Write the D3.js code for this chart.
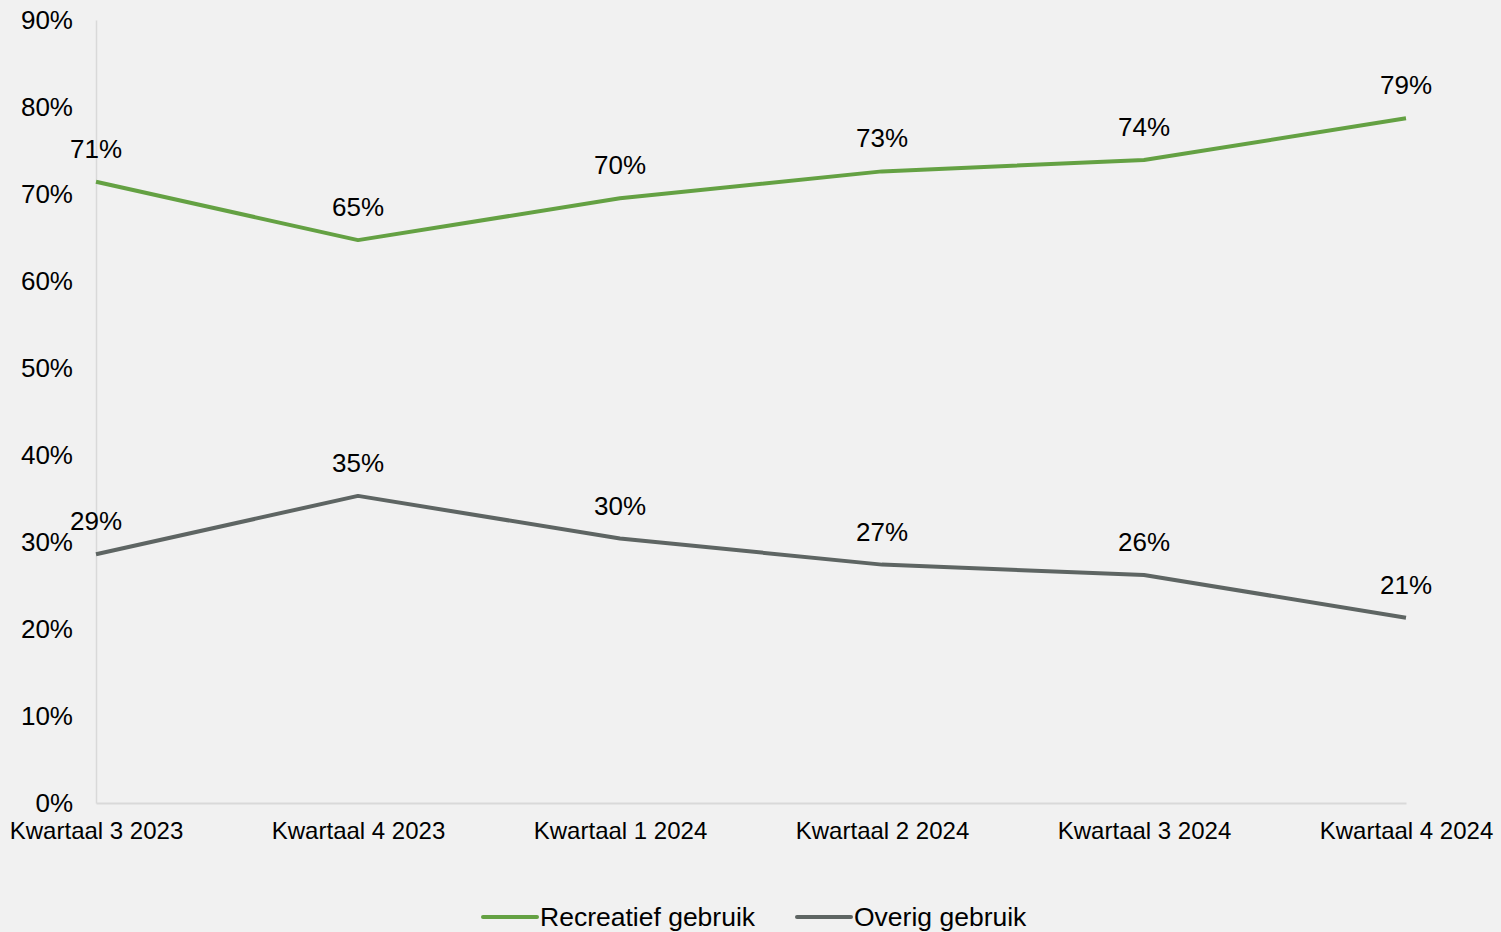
<!DOCTYPE html>
<html>
<head>
<meta charset="utf-8">
<script src="https://cdn.jsdelivr.net/npm/d3@7"></script>
<style>
  html, body { margin: 0; padding: 0; background: #f1f1f1; }
  svg { display: block; font-family: "Liberation Sans", Arial, sans-serif; }
</style>
</head>
<body>
<svg id="chart" width="1501" height="932"></svg>
<script>
// Quarters shown on the x axis
const categories = ["Kwartaal 3 2023", "Kwartaal 4 2023", "Kwartaal 1 2024", "Kwartaal 2 2024", "Kwartaal 3 2024", "Kwartaal 4 2024"];
// Share of use per quarter (fractions)
const recreatief = [0.714, 0.647, 0.695, 0.726, 0.739, 0.787];
const overig = [0.286, 0.353, 0.304, 0.274, 0.262, 0.213];
const seriesNames = ["Recreatief gebruik", "Overig gebruik"];
const yTicks = [0, 0.1, 0.2, 0.3, 0.4, 0.5, 0.6, 0.7, 0.8, 0.9];

const colors = ["#64a143", "#5e6563"];
const series = [
  { name: seriesNames[0], values: recreatief, color: colors[0] },
  { name: seriesNames[1], values: overig, color: colors[1] }
];

const svg = d3.select("#chart");
const margin = { left: 96, right: 95, top: 20, bottom: 129 };
const W = 1501, H = 932;

const x = d3.scalePoint().domain(categories).range([margin.left, W - margin.right]);
const y = d3.scaleLinear().domain([0, 0.9]).range([H - margin.bottom, margin.top]);
const pct = d3.format(".0%");

// Axes
const yAxis = svg.append("g")
  .attr("transform", `translate(${margin.left},0)`)
  .call(d3.axisLeft(y).tickValues(yTicks).tickFormat(pct).tickSize(0).tickPadding(23));
yAxis.select(".domain").attr("stroke", "#d9d9d9").attr("stroke-width", 1.5);
yAxis.selectAll("text").attr("font-size", 26).attr("fill", "#000").attr("font-family", "Liberation Sans, Arial, sans-serif");

const xAxis = svg.append("g")
  .attr("transform", `translate(0,${y(0)})`)
  .call(d3.axisBottom(x).tickSize(0).tickPadding(19));
xAxis.select(".domain").attr("stroke", "#d9d9d9").attr("stroke-width", 2);
xAxis.selectAll("text").attr("font-size", 24).attr("fill", "#000").attr("font-family", "Liberation Sans, Arial, sans-serif");

// Lines with value labels above each point
const line = d3.line().x((d, i) => x(categories[i])).y(d => y(d));
series.forEach(s => {
  svg.append("path")
    .datum(s.values)
    .attr("fill", "none")
    .attr("stroke", s.color)
    .attr("stroke-width", 4)
    .attr("stroke-linejoin", "round")
    .attr("d", line);

  svg.append("g").selectAll("text")
    .data(s.values)
    .join("text")
    .attr("x", (d, i) => x(categories[i]))
    .attr("y", d => y(d) - 24)
    .attr("text-anchor", "middle")
    .attr("font-size", 26)
    .attr("fill", "#000")
    .text(d => pct(d));
});

// Legend
const legendX = [483, 797];
const legendY = 917;
series.forEach((s, i) => {
  const g = svg.append("g").attr("transform", `translate(${legendX[i]},${legendY})`);
  g.append("line")
    .attr("x1", 0).attr("x2", 54).attr("y1", 0).attr("y2", 0)
    .attr("stroke", s.color).attr("stroke-width", 4).attr("stroke-linecap", "round");
  g.append("text")
    .attr("x", 57).attr("y", 9)
    .attr("font-size", 26.5)
    .attr("fill", "#000")
    .text(s.name);
});
</script>
</body>
</html>
